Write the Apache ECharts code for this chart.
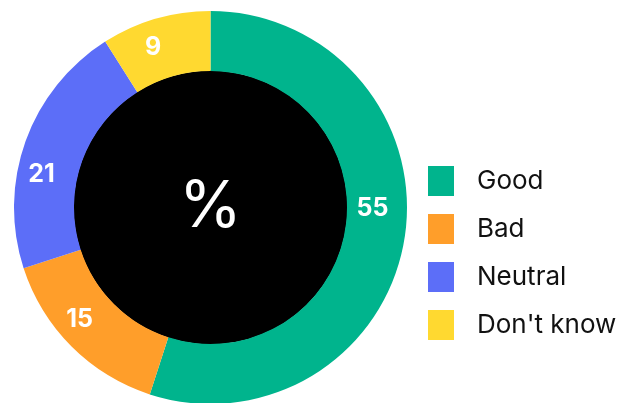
<!DOCTYPE html>
<html>
<head>
<meta charset="utf-8">
<script src="https://cdn.jsdelivr.net/npm/echarts@6/dist/echarts.min.js"></script>
<style>
html,body{margin:0;padding:0;background:#fff;}
#chart{width:630px;height:403px;}
</style>
</head>
<body>
<div id="chart"></div>
<script>
const categories = ["Good", "Bad", "Neutral", "Don't know"];
const values = [55, 15, 21, 9];
const colors = ["#00B48D", "#FF9E2A", "#5C6EF8", "#FFD930"];
const centerText = "%";
// small label nudges (px) relative to the ring midpoint
const labelNudgeX = [-5.5, -11, -9.5, -10];
const labelNudgeY = [-26, -8, 24, 3];

const chart = echarts.init(document.getElementById('chart'), null, {renderer: 'canvas'});
const FONT = 'Inter, "Noto Sans", sans-serif';
chart.setOption({
  backgroundColor: '#ffffff',
  animation: false,
  color: colors,
  legend: {
    orient: 'vertical',
    left: 428,
    top: 166,
    padding: 0,
    itemWidth: 26,
    itemHeight: 30,
    itemGap: 18,
    icon: 'rect',
    selectedMode: false,
    data: categories,
    textStyle: {
      fontFamily: FONT,
      fontSize: 26,
      color: '#111111',
      padding: [8, 0, 0, 18]
    }
  },
  series: [
    {
      type: 'pie',
      name: 'center',
      silent: true,
      center: [210.5, 207.5],
      radius: [0, 137],
      data: [{value: 1, name: '__center__', itemStyle: {color: '#000000'}}],
      label: {
        show: true,
        position: 'center',
        formatter: centerText,
        color: '#ffffff',
        fontFamily: FONT,
        fontSize: 64,
        fontWeight: 400
      },
      labelLine: {show: false},
      emphasis: {disabled: true}
    },
    {
      type: 'pie',
      name: 'answers',
      silent: true,
      center: [210.5, 207.5],
      radius: [136.5, 196.5],
      startAngle: 90,
      clockwise: true,
      avoidLabelOverlap: false,
      data: categories.map((c, i) => ({name: c, value: values[i]})),
      itemStyle: {borderWidth: 0},
      label: {
        show: true,
        position: 'inside',
        formatter: '{c}',
        color: '#ffffff',
        fontFamily: FONT,
        fontSize: 25,
        fontWeight: 700
      },
      labelLayout: function (p) {
        return {dx: labelNudgeX[p.dataIndex], dy: labelNudgeY[p.dataIndex]};
      },
      labelLine: {show: false},
      emphasis: {disabled: true}
    }
  ]
});
</script>
</body>
</html>
